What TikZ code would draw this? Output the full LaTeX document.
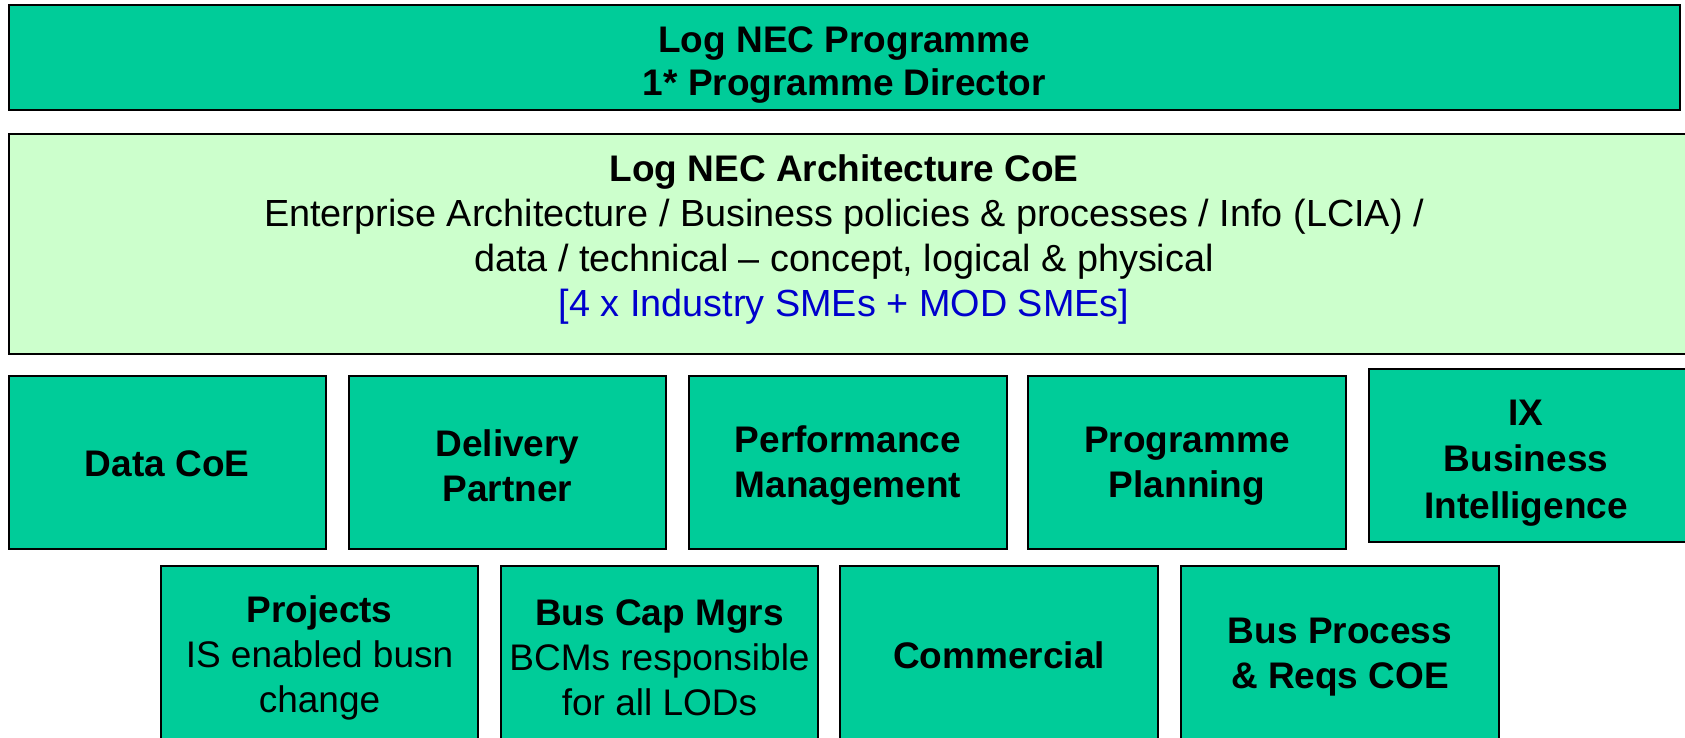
\documentclass[tikz,border=0pt]{standalone}
\usepackage{fontspec}
\setmainfont{Liberation Sans}
\definecolor{teal1}{HTML}{00CC99}
\definecolor{pale}{HTML}{CCFFCC}
\definecolor{smeblue}{HTML}{0000CC}
\tikzset{
  box/.style={draw=black, line width=2pt, fill=teal1, align=center, inner sep=0pt,
    font=\fontsize{37}{45}\selectfont\bfseries},
  archbox/.style={draw=black, line width=2pt, fill=pale, align=center, inner sep=0pt,
    font=\fontsize{37}{45}\selectfont},
  lbl/.style={align=center, inner sep=0pt, font=\fontsize{37}{45}\selectfont\bfseries},
}
\begin{document}
\begin{tikzpicture}[x=1pt,y=-1pt]
\useasboundingbox (0,0) rectangle (1685,738);
\clip (0,0) rectangle (1685,738);
\fill[white] (0,0) rectangle (1685,738);
% top
\node[box, minimum width=1671pt, minimum height=105pt] (top) at (844.3,58) {};
\node[lbl, font=\fontsize{37}{43}\selectfont\bfseries] (toptxt) at (844.3,65.5) {Log NEC Programme\\1* Programme Director};
% architecture
\node[archbox, minimum width=1700pt, minimum height=219.5pt] (arch) at (858.6,243.8) {};
\node[align=center, font=\fontsize{37.8}{45}\selectfont] (archtxt) at (844,239.5)
  {{\fontsize{37}{45}\selectfont\bfseries Log NEC Architecture CoE}\\Enterprise Architecture / Business policies \& processes / Info (LCIA) /\\data / technical -- concept, logical \& physical\\\textcolor{smeblue}{[4 x Industry SMEs + MOD SMEs]}};
% row 1
\node[box, minimum width=317pt, minimum height=173pt] (data) at (167.1,462.5) {};
\node[lbl] (datatxt) at (167.1,464) {Data CoE};
\node[box, minimum width=317pt, minimum height=173pt] (deliv) at (507.5,462.5) {};
\node[lbl] (delivtxt) at (507.5,466) {Delivery\\Partner};
\node[box, minimum width=318pt, minimum height=173pt] (perf) at (848,462.5) {};
\node[lbl] (perftxt) at (848,466) {Performance\\Management};
\node[box, minimum width=318pt, minimum height=173pt] (plan) at (1187,462.5) {};
\node[lbl] (plantxt) at (1187,466) {Programme\\Planning};
\node[box, minimum width=330pt, minimum height=173pt] (ix) at (1534,455) {};
\node[lbl, font=\fontsize{37}{46.5}\selectfont\bfseries] (ixtxt) at (1526,463) {IX\\Business\\Intelligence};
% row 2
\node[box, minimum width=317pt, minimum height=176pt] (proj) at (319.5,654) {};
\node[lbl] (projtxt) at (319.5,657.5) {Projects\\\mdseries IS enabled busn\\\mdseries change};
\node[box, minimum width=317pt, minimum height=176pt] (bcm) at (659.5,654) {};
\node[lbl] (bcmtxt) at (659.5,657.5) {Bus Cap Mgrs\\\mdseries BCMs responsible\\\mdseries for all LODs};
\node[box, minimum width=318pt, minimum height=176pt] (comm) at (999,654) {};
\node[lbl] (commtxt) at (999,655) {Commercial};
\node[box, minimum width=318pt, minimum height=176pt] (bpr) at (1340,654) {};
\node[lbl] (bprtxt) at (1340,657.5) {Bus Process\\\& Reqs COE};
\end{tikzpicture}
\end{document}
